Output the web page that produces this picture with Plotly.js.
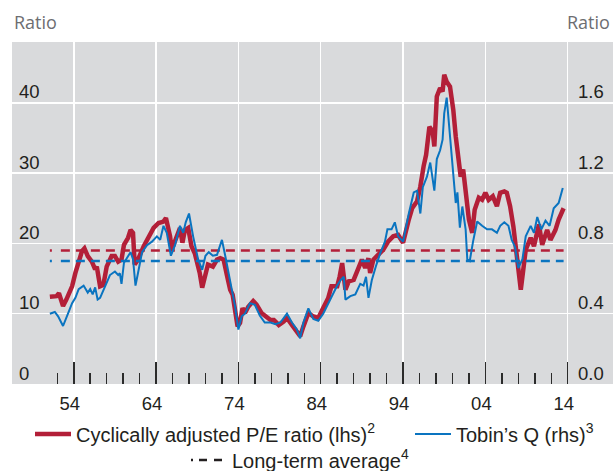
<!DOCTYPE html>
<html>
<head>
<meta charset="utf-8">
<script src="https://cdn.plot.ly/plotly-3.0.1.min.js"></script>
<style>html,body{margin:0;padding:0;background:#fff;}#chart{width:613px;height:471px;}</style>
</head>
<body>
<div id="chart"></div>
<script>
// Cyclically adjusted P/E ratio (lhs)
const peYears = [1952.1,1952.9,1953.2,1953.7,1954.1,1954.8,1955.2,1955.6,1956.0,1956.3,1956.7,1957.2,1957.6,1957.8,1958.2,1958.6,1959.0,1959.6,1960.0,1960.4,1960.8,1961.1,1961.6,1961.9,1962.2,1962.4,1962.8,1963.5,1964.1,1964.7,1965.3,1965.9,1966.2,1966.7,1966.9,1967.5,1967.9,1968.2,1968.5,1968.9,1969.3,1969.7,1970.3,1970.6,1970.9,1971.3,1971.9,1972.4,1972.8,1973.2,1973.6,1974.0,1974.3,1974.6,1974.9,1975.2,1975.5,1975.8,1976.2,1976.8,1977.2,1977.8,1978.4,1978.9,1979.3,1979.9,1980.5,1980.9,1981.5,1982.1,1982.5,1982.9,1983.5,1984.1,1984.7,1985.3,1985.9,1986.3,1987.0,1987.3,1987.6,1988.0,1988.4,1989.0,1989.6,1990.0,1990.4,1990.8,1991.0,1991.4,1992.0,1992.6,1993.2,1993.8,1994.4,1995.0,1995.7,1996.1,1996.7,1997.1,1997.5,1997.8,1998.2,1998.6,1998.8,1999.1,1999.5,1999.8,2000.0,2000.3,2000.7,2001.1,2001.4,2001.6,2002.0,2002.3,2002.6,2002.8,2003.0,2003.4,2003.7,2004.2,2004.6,2005.0,2005.4,2005.9,2006.4,2006.8,2007.3,2007.6,2008.0,2008.4,2008.8,2009.3,2009.5,2009.9,2010.5,2010.9,2011.5,2011.9,2012.5,2012.9,2013.5,2013.9,2014.5];
const peValues = [12.4,12.5,12.9,11.1,12.0,13.9,15.8,17.2,18.9,19.3,18.2,17.4,16.3,16.7,13.9,14.1,16.7,18.2,18.2,17.4,17.7,19.8,20.8,21.9,21.5,17.0,17.7,19.6,21.0,22.2,22.9,23.1,23.6,21.0,19.1,21.2,22.2,20.1,21.9,22.2,19.6,18.6,15.8,13.7,15.3,17.0,16.7,17.7,17.9,17.7,15.5,13.4,12.7,10.1,8.2,8.7,10.8,10.1,11.0,11.8,11.3,10.1,9.6,9.1,9.1,8.4,8.9,9.4,8.4,7.5,6.8,8.2,10.1,9.6,9.4,10.8,12.2,13.9,13.9,15.3,17.2,13.4,14.6,14.8,16.7,17.7,16.5,17.9,15.8,17.7,18.4,19.1,20.3,21.0,21.2,20.1,23.4,25.0,26.0,28.1,31.0,32.6,36.6,35.9,33.8,40.9,42.1,41.6,44.0,43.0,42.3,39.0,35.2,33.3,29.5,30.5,27.2,24.3,23.4,21.5,24.8,26.5,26.2,27.2,26.2,26.7,25.3,27.2,27.4,27.2,25.3,22.4,18.6,13.4,15.3,19.1,20.8,19.6,22.7,19.8,21.9,20.5,21.9,23.4,25.0];

// Tobin's Q (rhs)
const qYears = [1952.1,1952.7,1953.1,1953.7,1954.3,1954.8,1955.2,1955.6,1956.2,1956.7,1957.0,1957.3,1957.6,1957.9,1958.2,1958.8,1959.4,1960.0,1960.4,1960.6,1960.8,1961.1,1961.6,1961.9,1962.2,1962.5,1962.8,1963.3,1963.9,1964.5,1965.1,1965.5,1965.9,1966.3,1966.8,1967.3,1967.9,1968.3,1968.6,1969.0,1969.5,1970.1,1970.6,1971.0,1971.4,1971.9,1972.4,1973.0,1973.4,1973.8,1974.2,1974.6,1975.0,1975.4,1975.8,1976.4,1977.0,1977.6,1978.2,1978.9,1979.5,1980.1,1980.9,1981.5,1982.1,1982.5,1982.9,1983.5,1984.1,1984.7,1985.3,1985.9,1986.5,1987.0,1987.4,1987.8,1988.0,1988.6,1989.2,1989.8,1990.2,1990.5,1990.8,1991.2,1991.7,1992.2,1992.8,1993.1,1993.6,1994.0,1994.4,1995.0,1995.7,1996.3,1996.7,1997.1,1997.4,1997.9,1998.3,1998.8,1999.1,1999.5,1999.8,2000.0,2000.3,2000.6,2000.9,2001.2,2001.4,2001.6,2001.9,2002.2,2002.6,2002.8,2003.1,2003.5,2004.0,2004.6,2005.2,2005.8,2006.4,2006.8,2007.3,2007.8,2008.2,2008.6,2009.0,2009.5,2009.9,2010.5,2010.9,2011.3,2011.8,2012.3,2012.8,2013.3,2013.9,2014.4];
const qValues = [0.40,0.41,0.385,0.33,0.40,0.46,0.49,0.54,0.56,0.52,0.54,0.51,0.55,0.48,0.49,0.56,0.62,0.64,0.62,0.63,0.57,0.69,0.73,0.75,0.71,0.56,0.63,0.75,0.79,0.81,0.84,0.82,0.90,0.86,0.73,0.79,0.90,0.86,0.92,0.97,0.84,0.71,0.65,0.73,0.75,0.73,0.735,0.82,0.73,0.63,0.54,0.44,0.31,0.385,0.40,0.46,0.45,0.39,0.35,0.35,0.34,0.35,0.40,0.35,0.31,0.26,0.35,0.43,0.37,0.36,0.40,0.46,0.52,0.56,0.59,0.61,0.48,0.50,0.51,0.57,0.56,0.61,0.49,0.59,0.67,0.74,0.81,0.88,0.88,0.92,0.84,0.81,0.97,1.09,1.10,0.97,1.12,1.18,1.26,1.10,1.28,1.33,1.39,1.54,1.63,1.47,1.28,1.12,1.03,1.09,0.89,1.01,0.88,0.71,0.70,0.81,0.925,0.90,0.88,0.88,0.86,0.90,0.92,0.90,0.82,0.78,0.66,0.71,0.84,0.90,0.86,0.95,0.88,0.93,0.90,1.00,1.03,1.115];

// Long-term averages
const peAverage = 19.0;
const qAverage = 0.70;

// Axis ticks
const xTickYears = [1955,1965,1975,1985,1995,2005,2015];
const xTickLabels = ['54','64','74','84','94','04','14'];
const xMinorYears = [1953,1957,1959,1961,1963,1967,1969,1971,1973,1977,1979,1981,1983,1987,1989,1991,1993,1997,1999,2001,2003,2007,2009,2011,2013];
const lhsTicks = [0,10,20,30,40];
const rhsTicks = [0,0.4,0.8,1.2,1.6];
const rhsTickLabels = ['0.0','0.4','0.8','1.2','1.6'];

const RED = '#b31f38', BLUE = '#0a74c0', TXT = '#231f20';
const FONT = 'Liberation Sans, Arial, sans-serif';

function dashPattern(){
  let s = '2px,9px';
  for (let i = 0; i < 40; i++) s += ',9px,6px';
  return s;
}
const avgX = [peYears[0], peYears[peYears.length-1]];

const traces = [
  {x: avgX, y: [peAverage, peAverage], type:'scatter', mode:'lines', yaxis:'y',
   line:{color:RED, width:2.5, dash:dashPattern()}, showlegend:false, hoverinfo:'skip'},
  {x: avgX, y: [qAverage, qAverage], type:'scatter', mode:'lines', yaxis:'y2',
   line:{color:BLUE, width:2.5, dash:dashPattern()}, showlegend:false, hoverinfo:'skip'},
  {x: qYears, y: qValues, type:'scatter', mode:'lines', yaxis:'y2', name:"Tobin’s Q (rhs)<sup>3</sup>",
   line:{color:BLUE, width:2}, legend:'legend2'},
  {x: peYears, y: peValues, type:'scatter', mode:'lines', yaxis:'y', name:'Cyclically adjusted P/E ratio (lhs)<sup>2</sup>',
   line:{color:RED, width:4.5}, legend:'legend'},
  {x: [null], y: [null], type:'scatter', mode:'lines', name:'Long-term average<sup>4</sup>',
   line:{color:TXT, width:2.5, dash:'2px,6px,8px,7px,8px,20px'}, legend:'legend3'}
];

const px = v => (v - 12) / 601;
const py = v => (384 - v) / 342;
const legendBase = {orientation:'h', xanchor:'left', yanchor:'middle', bgcolor:'rgba(0,0,0,0)',
  font:{family:FONT, size:20, color:TXT}, itemwidth:36, borderwidth:0};

const tickFont = {family:FONT, size:18.5, color:TXT};
const lhsLabels = lhsTicks.map(v => ({xref:'paper', yref:'y', x:px(17), y:v, xanchor:'left', yanchor:'middle',
  yshift:11, showarrow:false, text:String(v), font:tickFont}));
const rhsLabels = rhsTicks.map((v, i) => ({xref:'paper', yref:'y2', x:px(606), y:v, xanchor:'right', yanchor:'middle',
  yshift:11, showarrow:false, text:rhsTickLabels[i], font:tickFont}));

const layout = {
  width:613, height:471,
  margin:{l:12, r:0, t:42, b:87, autoexpand:false},
  paper_bgcolor:'#ffffff', plot_bgcolor:'#d9dadc',
  font:{family:FONT, color:TXT},
  xaxis:{range:[1947.5,2020.5], tickmode:'array', tickvals:xTickYears, ticktext:xTickLabels,
    ticks:'inside', ticklen:22, tickwidth:1.5, tickcolor:'#2b2b2b',
    showgrid:true, gridcolor:'#ffffff', gridwidth:1.5, zeroline:false, showline:false,
    tickfont:tickFont, ticklabelshift:-4, ticklabelstandoff:6,
    minor:{tickmode:'array', tickvals:xMinorYears, ticks:'inside', ticklen:11, tickwidth:1.5, tickcolor:'#2b2b2b', showgrid:false}},
  yaxis:{range:[0,48.65], tickmode:'array', tickvals:lhsTicks, ticks:'', showticklabels:false,
    showgrid:true, gridcolor:'#ffffff', gridwidth:1.5, zeroline:false, showline:false},
  yaxis2:{range:[0,1.946], overlaying:'y', side:'right', tickmode:'array', tickvals:rhsTicks, ticktext:rhsTickLabels,
    ticks:'', showticklabels:false, showgrid:false, zeroline:false, showline:false},
  legend: Object.assign({}, legendBase, {x:px(30), y:py(434)}),
  legend2: Object.assign({}, legendBase, {x:px(410), y:py(434)}),
  legend3: Object.assign({}, legendBase, {x:px(186), y:py(460)}),
  annotations:[
    {xref:'paper', yref:'paper', x:0, y:py(22), xanchor:'left', yanchor:'middle', showarrow:false,
     text:'Ratio', font:{family:'Open Sans, sans-serif', size:18, color:'#6d6e71'}},
    {xref:'paper', yref:'paper', x:1, y:py(22), xanchor:'right', yanchor:'middle', showarrow:false,
     text:'Ratio', font:{family:'Open Sans, sans-serif', size:18, color:'#6d6e71'}, xshift:-1}
  ].concat(lhsLabels, rhsLabels),
  showlegend:true
};

Plotly.newPlot('chart', traces, layout, {staticPlot:true, displayModeBar:false});
</script>
</body>
</html>
